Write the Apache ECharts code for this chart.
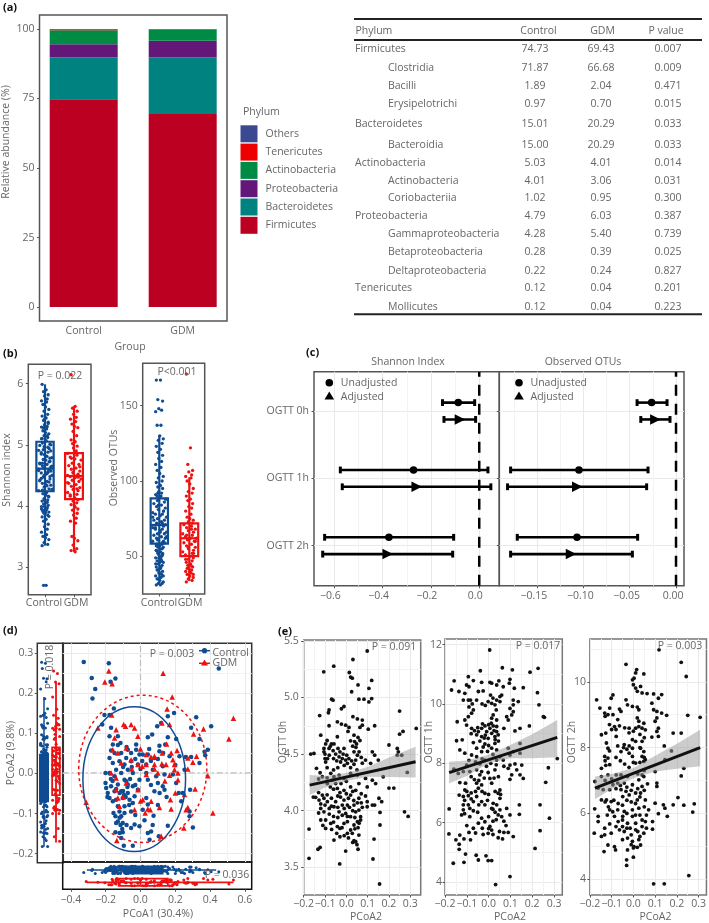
<!DOCTYPE html>
<html>
<head>
<meta charset="utf-8">
<title>Gut microbiota panels</title>
<script src="https://cdn.jsdelivr.net/npm/echarts@6/dist/echarts.min.js"></script>
<style>
  html, body { margin: 0; background: #fff; }
  #chart { width: 709px; height: 923px; }
</style>
</head>
<body>
<div id="chart"></div>
<script>
// (a) stacked bars
const groups = ['Control', 'GDM'];
const phylumOrder = ['Others', 'Tenericutes', 'Actinobacteria', 'Proteobacteria', 'Bacteroidetes', 'Firmicutes'];
const phylumColors = ['#3B4992', '#EE0000', '#008B45', '#631879', '#008280', '#BB0021'];
const others = [0.32, 0.2];
const tenericutes = [0.12, 0.04];
const actinobacteria = [5.03, 4.01];
const proteobacteria = [4.79, 6.03];
const bacteroidetes = [15.01, 20.29];
const firmicutes = [74.73, 69.43];

// (a) table
const tableHead = ['Phylum', 'Control', 'GDM', 'P value'];
const tableNames = ['Firmicutes', 'Clostridia', 'Bacilli', 'Erysipelotrichi', 'Bacteroidetes', 'Bacteroidia', 'Actinobacteria', 'Actinobacteria', 'Coriobacteriia', 'Proteobacteria', 'Gammaproteobacteria', 'Betaproteobacteria', 'Deltaproteobacteria', 'Tenericutes', 'Mollicutes'];
const tableControl = ['74.73', '71.87', '1.89', '0.97', '15.01', '15.00', '5.03', '4.01', '1.02', '4.79', '4.28', '0.28', '0.22', '0.12', '0.12'];
const tableGdm = ['69.43', '66.68', '2.04', '0.70', '20.29', '20.29', '4.01', '3.06', '0.95', '6.03', '5.40', '0.39', '0.24', '0.04', '0.04'];
const tableP = ['0.007', '0.009', '0.471', '0.015', '0.033', '0.033', '0.014', '0.031', '0.300', '0.387', '0.739', '0.025', '0.827', '0.201', '0.223'];
const tableTopLevel = [0, 4, 6, 9, 13];

// (b) box summaries: low, q1, median, q3, high
const shannonBoxControl = [3.35, 4.24, 4.61, 5.05, 5.99];
const shannonBoxGdm = [3.25, 4.11, 4.49, 4.865, 5.63];
const otuBoxControl = [32, 58.4, 70.8, 88.5, 130.5];
const otuBoxGdm = [33.6, 50.2, 62, 71.9, 102.4];
const shannonControl = [5.99, 5.9, 5.87, 5.82, 5.8, 5.75, 5.72, 5.7, 5.66, 5.62, 5.58, 5.55, 5.5, 5.47, 5.44, 5.4, 5.37, 5.33, 5.3, 5.29, 5.26, 5.23, 5.2, 5.18, 5.15, 5.12, 5.1, 5.07, 5.03, 5.0, 4.97, 4.94, 4.91, 4.88, 4.85, 4.82, 4.79, 4.76, 4.73, 4.7, 4.68, 4.66, 4.64, 4.62, 4.6, 4.58, 4.56, 4.54, 4.52, 4.5, 4.47, 4.44, 4.42, 4.4, 4.37, 4.34, 4.31, 4.28, 4.25, 4.22, 4.2, 4.18, 4.15, 4.12, 4.1, 4.08, 4.05, 4.03, 4.01, 3.99, 3.97, 3.95, 3.94, 3.93, 3.92, 3.9, 3.88, 3.85, 3.82, 3.78, 3.75, 3.7, 3.66, 3.62, 3.57, 3.53, 3.5, 3.48, 3.45, 3.4, 3.37, 3.35, 2.7, 2.7, 4.9, 4.84, 4.72, 4.6, 4.55, 4.45, 4.35, 4.27, 4.92, 4.78, 4.69, 4.53, 5.28, 5.35, 5.42, 5.15, 5.1, 4.96, 4.87, 4.75, 4.65, 4.62, 4.48, 4.41, 4.33, 4.26, 4.16, 4.1, 4.06, 3.99, 3.96, 3.91, 3.89, 3.83, 3.92, 5.01, 4.99, 4.81, 4.7, 4.57, 4.5, 4.39];
const shannonGdm = [6.147, 5.63, 5.6, 5.55, 5.5, 5.45, 5.42, 5.38, 5.34, 5.3, 5.28, 5.22, 5.15, 5.08, 5.05, 5.02, 4.98, 4.95, 4.9, 4.86, 4.83, 4.8, 4.77, 4.75, 4.7, 4.68, 4.66, 4.62, 4.6, 4.57, 4.55, 4.52, 4.5, 4.49, 4.48, 4.46, 4.44, 4.42, 4.4, 4.37, 4.35, 4.32, 4.3, 4.27, 4.25, 4.22, 4.19, 4.16, 4.13, 4.1, 4.08, 4.05, 4.02, 3.98, 3.93, 3.88, 3.85, 3.8, 3.75, 3.72, 3.5, 3.47, 3.43, 3.36, 3.3, 3.27, 3.25, 4.78, 4.64, 4.54, 4.47, 4.38, 4.28, 4.18, 4.0, 3.95];
const otuControl = [167, 167, 154, 153, 148, 147, 146, 137, 137, 130, 128, 127, 125, 123, 121, 119, 117, 115, 113, 111, 109, 107, 105, 103, 102, 100, 99, 97, 96, 95, 93, 92, 91, 90, 90, 89, 88, 87, 86, 85, 84, 83, 82, 81, 80, 79, 78, 78, 77, 76, 75, 74, 74, 73, 72, 71, 71, 70, 69, 68, 68, 67, 66, 65, 65, 64, 63, 62, 62, 61, 60, 60, 59, 58, 57, 56, 56, 55, 54, 53, 52, 52, 51, 50, 49, 48, 47, 46, 46, 45, 44, 43, 42, 41, 40, 39, 38, 37, 36, 35, 34, 33, 32, 32, 31, 31, 92, 88, 84, 80, 76, 72, 69, 66, 63, 61, 59, 57, 55, 53, 51, 49, 47, 45, 43, 41, 39, 37, 35, 58, 54, 50];
const otuGdm = [171, 122, 111, 107, 106, 104, 103, 102, 100, 98, 95, 93, 92, 90, 88, 87, 85, 83, 82, 80, 78, 76, 75, 74, 73, 72, 71, 70, 69, 68, 67, 66, 65, 64, 63, 62, 62, 61, 60, 59, 58, 57, 56, 55, 54, 53, 52, 51, 50, 49, 48, 47, 46, 45, 44, 43, 42, 41, 40, 39, 38, 37, 36, 35, 34, 33, 68, 64, 60, 56, 52, 48, 44, 42, 40, 38];
const boxJitter = [-0.18, 0.07, -0.09, 0.2, -0.03, 0.14, -0.22, 0.1, -0.13, 0.03, 0.24, -0.06, 0.17];

// (c) low, estimate, high for OGTT 0h, 1h, 2h
const ogttRows = [3, 2, 1];
const ogttNames = { 1: 'OGTT 2h', 2: 'OGTT 1h', 3: 'OGTT 0h' };
const shannonUnadjusted = [[-0.152, -0.087, -0.019], [-0.575, -0.272, 0.036], [-0.64, -0.374, -0.106]];
const shannonAdjusted = [[-0.146, -0.08, -0.015], [-0.567, -0.259, 0.048], [-0.648, -0.379, -0.11]];
const otusUnadjusted = [[-0.042, -0.0263, -0.0097], [-0.1784, -0.1047, -0.0302], [-0.1712, -0.1068, -0.0414]];
const otusAdjusted = [[-0.038, -0.0223, -0.0065], [-0.1817, -0.1065, -0.0317], [-0.1784, -0.1133, -0.0471]];

// (d) PCoA points
const pcoaControl = [[-.326,.277],[-.182,.274],[-.28,.237],[-.144,.236],[-.26,.21],[-.276,.186],[-.172,.228],[.45,.261],[-.153,.161],[-.207,.145],[-.178,.145],[-.22,.121],[-.169,.113],[-.178,.092],[-.13,.092],[.157,.142],[.193,.15],[.32,.139],[.406,.117],[.119,.125],[.291,.113],[.339,.085],[.067,.096],[.042,.089],[.096,.117],[.157,.089],[-.159,.071],[-.073,.058],[-.025,.071],[.109,.068],[.142,.071],[.205,.085],[.387,.058],[.368,.053],[-.169,.056],[-.149,.05],[-.111,.05],[-.082,.0375],[-.054,.05],[-.025,.058],[-.006,.046],[.013,.046],[.042,.046],[.08,.0375],[.109,.054],[.167,.042],[.224,.042],[.291,.04],[.372,.044],[.339,.025],[-.178,.0375],[-.159,.025],[-.121,.029],[-.092,.021],[-.054,.029],[-.015,.021],[.033,.021],[.071,.008],[.128,.017],[.253,.008],[-.201,0],[-.178,0],[-.14,.008],[-.111,0],[-.073,.008],[-.044,0],[.033,0],[.09,-.008],[.138,-.004],[.186,-.004],[-.149,-.008],[-.092,-.017],[-.006,-.017],[.042,-.017],[.1,-.025],[.128,-.033],[.205,-.025],[-.201,-.025],[-.197,-.0375],[-.169,-.033],[-.13,-.029],[-.082,-.021],[-.073,-.029],[-.044,-.033],[-.015,-.042],[.08,-.046],[.138,-.042],[.285,-.042],[.243,-.05],[-.188,-.05],[-.149,-.046],[-.111,-.046],[-.073,-.05],[-.034,-.058],[-.178,-.0625],[-.14,-.067],[-.102,-.0625],[-.063,-.067],[.033,-.0625],[.234,-.071],[-.159,-.071],[-.13,-.083],[-.092,-.083],[-.044,-.075],[.042,-.079],[.013,-.092],[.282,-.096],[-.121,-.096],[-.144,-.108],[-.111,-.108],[-.092,-.1],[-.054,-.096],[.075,-.107],[.282,-.108],[-.13,-.121],[-.102,-.125],[.023,-.118],[-.034,-.129],[-.054,-.1375],[-.006,-.133],[.157,-.132],[.301,-.136],[-.144,-.148],[-.102,-.148],[.042,-.15],[.061,-.146],[-.111,-.1625],[.052,-.167],[-.096,-.182],[-.044,-.182],[.105,-.158],[-.12,-.112],[-.115,-.13],[-.105,-.14],[-.095,-.055],[-.085,-.06],[-.075,-.035],[-.12,-.05],[-.16,-.02],[-.14,-.04],[.01,.03],[.06,.03],[.1,.035],[-.03,.035],[-.065,-.08],[-.1,.015],[-.08,.065],[-.13,.07],[.06,-.03],[.11,-.05],[.15,-.06],[-.17,-.015],[-.19,-.06],[-.06,-.015],[-.03,-.03],[0,.01],[.05,.06],[.13,.05],[.2,.02],[.22,-.05],[.1,-.08],[.07,-.13],[-.03,-.105],[-.08,-.13],[-.12,-.15],[-.155,-.1],[-.14,-.125],[-.1,-.045],[-.05,.015],[-.115,.075],[.26,.04]];
const pcoaGdm = [[-.182,.255],[.13,.249],[-.205,.2275],[-.163,.223],[.182,.19],[.153,.16],[.534,.137],[.508,.085],[.362,.11],[.305,.0975],[-.245,.1125],[-.165,.145],[-.097,.121],[-.086,.117],[-.054,.121],[-.034,.1125],[.123,.125],[.167,.121],[-.14,.108],[-.015,.092],[-.149,.0875],[.15,.0725],[.21,.056],[-.159,.058],[-.082,.0625],[-.13,.05],[.033,.046],[.125,.05],[.176,.05],[.322,.042],[.272,.0375],[-.054,.033],[.08,.042],[.186,.033],[-.111,.025],[-.015,.021],[.033,.021],[.08,.021],[.123,.023],[.147,.021],[.195,.021],[.0096,.017],[.301,.027],[.272,.01],[-.169,0],[.08,.01],[.195,.008],[-.14,-.0125],[.167,-.006],[.215,0],[.387,-.007],[.033,-.004],[-.082,-.025],[-.015,-.042],[.215,-.017],[.314,-.04],[-.14,-.042],[.253,-.054],[-.13,-.0625],[.013,-.067],[.061,-.071],[.172,-.067],[-.121,-.083],[-.034,-.092],[.042,-.09],[.056,-.092],[.109,-.086],[.176,-.09],[.272,-.086],[.416,-.1],[.027,-.1],[-.312,-.073],[.249,-.1375],[.119,-.158],[-.136,-.169],[.262,-.092],[.06,.04],[.1,0],[.14,-.02],[.2,-.05],[0,.06],[-.05,.01],[-.1,-.06],[0,-.07]];
// cx, cy, rx, ry
const ellipseControl = [-0.036, -0.0154, 0.295, 0.181];
const ellipseGdm = [0.013, 0.0104, 0.368, 0.184];
const pcoaBoxYControl = [-0.183, -0.07, -0.002, 0.047, 0.19];
const pcoaBoxYGdm = [-0.172, -0.054, 0.004, 0.065, 0.227];
const pcoaBoxXControl = [-0.308, -0.092, 0.02, 0.128, 0.435];
const pcoaBoxXGdm = [-0.308, -0.125, 0.0, 0.157, 0.534];
const marginJitter = [-0.2, 0.12, -0.04, 0.25, -0.28, 0.07, 0.18, -0.14, 0.3, -0.08, 0.01];

// (e) OGTT against PCoA2
const ogtt0h = [[.098,5.41],[.031,5.335],[-.059,5.276],[-.106,5.226],[.014,5.22],[.02,5.18],[.028,5.17],[.055,5.11],[.106,5.08],[.119,5.15],[.025,5.05],[.059,4.985],[.083,4.985],[.119,4.99],[.106,4.96],[-.069,4.985],[-.0625,4.976],[-.011,4.92],[-.023,4.9],[-.081,4.89],[-.084,4.865],[-.125,4.84],[.25,4.88],[.031,4.83],[.052,4.81],[.075,4.8],[-.042,4.785],[-.023,4.765],[-.003,4.755],[.0125,4.735],[-.081,4.75],[.075,4.755],[.064,4.735],[.133,4.75],[.103,4.72],[.328,4.726],[.266,4.7],[.25,4.676],[-.12,4.667],[.008,4.7],[-.042,4.653],[.036,4.667],[.055,4.647],[.064,4.62],[.02,4.617],[.039,4.61],[.048,4.59],[-.097,4.59],[-.07,4.59],[-.058,4.59],[-.039,4.55],[-.011,4.55],[-.105,4.55],[-.081,4.55],[.2,4.58],[.239,4.55],[.244,4.52],[.239,4.49],[.26,4.49],[-.152,4.506],[-.167,4.5],[-.105,4.52],[-.08,4.49],[-.1,4.46],[-.097,4.43],[-.034,4.476],[-.019,4.46],[-.003,4.447],[-.027,4.43],[.005,4.418],[.036,4.52],[.052,4.49],[.044,4.447],[.036,4.41],[.122,4.52],[.133,4.49],[.15,4.447],[.09,4.447],[.114,4.418],[.286,4.338],[-.14,4.374],[-.123,4.335],[-.1125,4.3],[-.073,4.33],[-.058,4.3],[-.034,4.315],[-.011,4.285],[.02,4.33],[.052,4.315],[.173,4.3],[.09,4.285],[.122,4.27],[.1375,4.24],[-.05,4.24],[-.066,4.27],[-.089,4.24],[-.042,4.197],[-.011,4.18],[.02,4.21],[.059,4.24],[.044,4.18],[.098,4.21],[.2,4.2],[.223,4.2],[-.155,4.12],[-.144,4.118],[-.128,4.094],[-.1125,4.138],[-.105,4.11],[-.089,4.08],[-.027,4.12],[-.011,4.094],[.02,4.138],[.059,4.11],[.052,4.07],[.036,4.05],[.005,4.05],[-.019,4.05],[.098,4.08],[.122,4.05],[.133,4.05],[.098,4.035],[.153,4.11],[.166,4.08],[-.12,4.02],[-.105,3.99],[-.08,4.02],[-.058,4.035],[-.034,3.99],[-.019,3.96],[-.003,3.976],[.02,3.947],[.044,3.99],[.059,4.006],[.067,3.947],[.158,3.985],[.273,3.99],[.29,3.95],[-.12,3.918],[-.097,3.918],[-.097,3.844],[-.073,3.888],[-.069,3.835],[-.042,3.86],[-.03,3.844],[-.011,3.888],[.005,3.903],[.036,3.874],[.052,3.903],[.067,3.918],[.158,3.874],[-.175,3.838],[.005,3.8],[.028,3.8],[.059,3.785],[-.058,3.741],[-.03,3.77],[.036,3.735],[.044,3.726],[.13,3.75],[-.133,3.66],[-.123,3.676],[-.003,3.644],[.055,3.66],[-.175,3.58],[.125,3.574],[-.031,3.53],[.156,3.353],[-.09,4.62],[-.075,4.57],[-.062,4.53],[-.05,4.5],[-.1,4.5],[-.088,4.46],[-.06,4.46],[-.045,4.44],[-.03,4.52],[-.015,4.5],[.002,4.49],[.012,4.46],[.025,4.44],[.03,4.57],[.045,4.56],[.06,4.52],[.07,4.47],[.075,4.42],[-.01,4.4],[-.04,4.38],[-.06,4.36],[-.09,4.38],[.02,4.38],[.05,4.36],[-.13,4.28],[-.09,4.29],[-.075,4.21],[-.06,4.19],[-.025,4.24],[0,4.26],[-.03,4.16],[0,4.15],[.03,4.17],[.07,4.15],[.09,4.13],[-.13,4.16],[-.09,4.14],[-.07,4.11],[-.05,4.08],[-.04,4.13],[.01,4.11],[.035,4.09],[.07,4.07],[-.12,4.06],[-.1,4.05],[-.07,4.04],[-.04,4.03],[-.01,4.02],[.015,4.03],[.03,4],[.075,4.03],[-.13,3.98],[-.08,3.97],[-.06,3.95],[-.04,3.94],[.005,3.95],[.04,3.94],[.06,3.89],[-.11,3.87],[-.06,3.9],[-.02,3.85],[.02,3.83],[.04,3.84],[.055,3.85],[-.045,3.8],[-.01,3.78],[.01,3.76],[.03,3.72],[.05,3.7]];
const ogtt1h = [[.005,11.82],[.063,11.22],[-.038,11.12],[.109,11.15],[.227,11.2],[.19,11.07],[-.093,10.92],[-.158,10.78],[-.07,10.79],[-.101,10.64],[-.09,10.58],[-.032,10.73],[.006,10.73],[.014,10.7],[.047,10.78],[.037,10.64],[.098,10.83],[.095,10.7],[.118,10.53],[.159,10.55],[.067,10.58],[-.17,10.47],[-.136,10.42],[-.109,10.36],[-.047,10.42],[-.025,10.44],[.009,10.3],[.052,10.25],[.037,10.13],[.06,10.3],[.224,10.38],[-.116,10.13],[-.093,10.13],[-.083,10.13],[-.055,10.13],[-.002,10.08],[.014,10.02],[.029,9.97],[.052,10.08],[.113,10.13],[.136,10.08],[.231,9.97],[.113,9.97],[.098,9.85],[-.07,9.8],[-.078,9.69],[-.093,9.57],[-.109,9.46],[-.144,9.4],[.021,9.63],[.014,9.52],[.037,9.46],[.113,9.74],[.106,9.63],[.083,9.57],[.09,9.46],[.251,9.57],[.256,9.55],[-.101,9.29],[-.078,9.18],[-.028,9.33],[-.017,9.26],[.006,9.18],[.021,9.26],[-.032,9.18],[.037,9.24],[-.047,9.07],[-.009,9.07],[.014,9.01],[.037,9.07],[.07,9.18],[.144,9.18],[.187,9.26],[.121,9.09],[-.055,8.96],[-.032,8.9],[-.002,8.84],[.029,8.9],[.044,8.96],[-.147,8.76],[-.121,8.79],[-.07,8.7],[-.017,8.65],[.029,8.67],[.144,8.67],[-.132,8.45],[-.109,8.34],[-.055,8.51],[-.032,8.39],[.014,8.51],[.037,8.45],[.09,8.51],[.113,8.39],[-.078,8.28],[-.055,8.22],[-.017,8.11],[.052,8.22],[.098,8.28],[.144,8.34],[.315,8.16],[.037,8.11],[.067,8.11],[-.101,7.94],[-.04,7.98],[.098,7.94],[.121,7.98],[.152,7.94],[.274,7.85],[-.159,7.8],[-.139,7.66],[-.116,7.72],[-.086,7.72],[-.055,7.78],[-.032,7.72],[-.002,7.69],[.029,7.78],[.09,7.83],[.129,7.78],[.144,7.61],[.159,7.49],[.106,7.61],[.098,7.46],[-.04,7.61],[.006,7.49],[-.132,7.35],[-.106,7.33],[-.055,7.33],[-.032,7.27],[.014,7.33],[.262,7.36],[-.109,7.1],[-.047,7.16],[-.017,6.99],[.052,7.1],[.044,6.99],[-.135,6.93],[-.116,6.88],[-.093,6.91],[-.055,6.88],[.052,6.82],[-.07,6.71],[-.032,6.71],[-.017,6.6],[-.116,6.6],[-.093,6.6],[.021,6.65],[.037,6.6],[.236,6.6],[.141,6.6],[-.181,6.46],[-.116,6.43],[-.086,6.48],[.014,6.48],[.052,6.43],[.083,6.48],[.141,6.28],[-.124,6.26],[-.086,6.2],[.044,6.26],[.06,6.2],[.098,6.26],[.279,6.15],[-.032,6.15],[-.047,5.98],[-.017,6.03],[.006,5.87],[-.07,5.81],[-.029,5.81],[.014,5.75],[-.002,5.64],[-.09,5.67],[-.182,5.62],[-.132,5.58],[.09,5.67],[.07,5.67],[.236,5.73],[.113,5.53],[.044,5.49],[.064,5.45],[-.15,5.42],[-.113,5.45],[-.083,5.42],[-.135,5.27],[-.135,5.1],[.213,5.13],[-.106,4.94],[-.057,4.9],[-.012,4.88],[-.047,4.74],[-.002,4.72],[.014,4.72],[-.162,4.63],[-.113,4.66],[.098,4.18],[.032,3.91],[-.08,9],[-.065,9.1],[-.05,9.2],[-.04,8.75],[-.02,8.85],[0,9.3],[.012,9.35],[.025,9.1],[.03,8.8],[.045,8.75],[-.015,8.95],[-.025,8.55],[-.005,8.4],[0,8.6],[.02,8.3],[-.09,9.9],[-.075,10],[-.03,10],[-.015,9.95],[.02,10.2],[.035,9.8],[-.09,8.1],[-.06,8.05],[-.03,8.15],[-.01,7.9],[.01,8],[.035,7.95],[.07,7.9],[-.08,7.55],[-.065,7.45],[-.045,7.42],[-.02,7.5],[.025,7.5],[.045,7.55],[-.1,7.05],[-.08,7],[-.06,7.05],[-.03,7.05],[0,6.95],[.03,7.05],[.055,6.95],[-.11,6.75],[-.08,6.8],[-.045,6.6],[-.005,6.75],[.02,6.45],[.03,6.35],[-.11,6.3],[-.07,6.4],[-.05,6.35],[0,6.2],[.02,6.05],[.035,6.1],[.07,6.05],[-.1,5.9],[-.06,5.65],[-.025,5.6],[0,5.8],[.02,5.6],[.05,5.7],[.08,5.9]];
const ogtt2h = [[.118,10.97],[.22,10.59],[-.034,10.53],[.243,10.16],[.015,10.37],[.0105,10.27],[.048,10.24],[.003,10.11],[-.004,10.06],[0,9.91],[.0105,9.81],[.018,9.71],[.033,9.86],[.04,9.66],[.063,9.64],[.093,9.63],[.13,9.61],[.115,9.5],[-.094,9.6],[-.102,9.5],[-.169,9.45],[-.034,9.45],[-.027,9.3],[.085,9.35],[-.154,9.2],[-.109,9.2],[-.064,9.17],[-.057,9.1],[-.0045,9.25],[.018,9.23],[.025,9.15],[.093,9.15],[.108,9.1],[.13,9.05],[.153,8.98],[.25,8.98],[.307,8.92],[-.132,9.05],[-.117,9],[-.094,9],[-.072,8.85],[.108,8.9],[.1,8.8],[.018,8.9],[.025,8.8],[.048,8.74],[-.064,8.66],[-.087,8.64],[-.0195,8.59],[.0105,8.59],[.025,8.64],[.04,8.59],[.115,8.59],[.055,8.54],[-.147,8.39],[-.127,8.44],[.183,8.44],[.22,8.44],[.108,8.49],[.115,8.34],[.085,8.32],[-.0045,8.24],[.0105,8.19],[-.124,8.14],[-.079,8.34],[.04,8.19],[-.117,7.98],[-.072,8.05],[-.042,8.09],[-.0195,8.05],[-.057,7.88],[-.0045,7.98],[.033,7.98],[.048,7.88],[.142,8.05],[-.132,7.73],[-.117,7.68],[-.0195,7.83],[-.0045,7.73],[.04,7.73],[.055,7.63],[.175,7.9],[.145,7.63],[-.147,7.37],[-.127,7.46],[-.109,7.48],[.0105,7.53],[.048,7.58],[.232,7.37],[.22,7.14],[-.079,7.17],[-.057,7.17],[-.027,7.12],[.04,7.17],[.1,7.27],[-.147,7.12],[-.117,7.17],[-.162,6.77],[-.139,6.72],[-.094,6.87],[-.072,6.92],[-.042,6.92],[.025,7.02],[.048,7.12],[.108,6.92],[.108,6.82],[-.109,6.72],[-.057,6.72],[-.0045,6.87],[.04,6.82],[-.177,6.97],[-.034,6.67],[.0105,6.62],[.033,6.62],[-.147,6.41],[-.124,6.41],[-.102,6.36],[-.049,6.51],[-.0195,6.56],[.018,6.41],[.055,6.41],[.205,6.48],[.28,6.29],[.232,6.25],[.138,6.26],[.1,6.31],[.183,6.26],[-.178,6.14],[-.109,6.11],[-.072,6.11],[-.042,6.06],[-.0045,6.11],[.025,6.16],[.07,6.11],[.145,6.16],[.273,6.04],[.115,5.99],[.156,5.91],[-.162,5.91],[-.162,5.75],[-.087,5.91],[-.049,5.91],[-.0045,5.91],[.04,5.8],[.055,5.75],[.088,5.75],[-.109,5.68],[-.132,5.55],[-.027,5.7],[.0105,5.7],[.04,5.6],[-.064,5.5],[-.042,5.45],[.0105,5.5],[.088,5.52],[-.18,5.4],[-.132,5.35],[-.102,5.4],[.048,5.4],[-.147,5.3],[-.027,5.25],[-.0045,5.15],[.025,5.2],[-.117,5.04],[-.087,4.99],[.003,4.99],[.018,4.97],[.033,5.04],[-.027,4.89],[-.135,4.84],[-.082,4.89],[0,4.67],[-.031,4.59],[-.031,4.42],[.255,4.11],[.093,3.86],[.142,3.86],[-.13,8.95],[-.11,8.7],[-.1,8.55],[-.08,8.55],[-.04,8.6],[-.02,8.45],[0,8.5],[.03,8.4],[.05,8.3],[.03,8],[.05,7.7],[.03,7.55],[-.045,8],[-.03,7.95],[-.13,7.6],[-.11,7.9],[-.08,7.7],[-.06,7.6],[-.04,7.5],[-.02,7.4],[0,7.55],[.02,7.2],[.05,7.3],[-.13,7],[-.1,7.05],[-.08,6.75],[-.06,6.85],[-.03,6.8],[-.01,6.7],[.02,6.75],[.05,6.7],[.065,6.9],[-.13,6.35],[-.115,6.2],[-.09,6.4],[-.07,6.3],[-.05,6.25],[-.03,6.4],[-.01,6.35],[.01,6.3],[.03,6.5],[.05,6.2],[-.12,5.95],[-.095,6.05],[-.07,5.75],[-.05,5.8],[-.03,6],[-.015,5.55],[.01,5.95],[.03,5.95],[.06,5.95],[-.08,5.6],[-.05,5.6],[-.03,5.55],[-.01,5.35],[.02,5.45],[.06,5.55],[.03,5.3],[-.05,5.2],[-.01,5.05],[0,4.95]];
const fit0hX = [-0.172, 0.325], fit0hY = [4.226, 4.432];
const fit1hX = [-0.181, 0.315], fit1hY = [7.685, 8.876];
const fit2hX = [-0.177, 0.307], fit2hY = [6.767, 8.0];
const band0hX = [-0.172, -0.1, 0, 0.1, 0.2, 0.325];
const band0hHi = [4.315, 4.306, 4.332, 4.385, 4.47, 4.565];
const band0hLo = [4.138, 4.206, 4.262, 4.3, 4.297, 4.294];
const band1hX = [-0.181, -0.1, 0, 0.1, 0.2, 0.315];
const band1hHi = [8.056, 8.09, 8.29, 8.62, 8.98, 9.46];
const band1hLo = [7.326, 7.57, 8.0, 8.17, 8.17, 8.2];
const band2hX = [-0.177, -0.1, 0, 0.1, 0.2, 0.307];
const band2hHi = [7.12, 7.2, 7.376, 7.75, 8.12, 8.54];
const band2hLo = [6.43, 6.74, 7.07, 7.27, 7.355, 7.43];

const FONT = '"Open Sans", "Noto Sans", sans-serif';
const GREY = '#666';
const BLUE = '#0F4C92';
const RED = '#EE1111';
const GRID_MAJOR = '#e9e9e9';
const GRID_MINOR = '#f3f3f3';
const fixed = (d) => (v) => Number(v).toFixed(d).replace('-', '\u2212');

const grids = [], xAxes = [], yAxes = [], series = [], marks = [];

function axis(gridIndex, a) {
  return {
    type: 'value', gridIndex, min: a.min, max: a.max,
    axisLine: { show: false, onZero: false },
    axisTick: { show: !!a.labels, length: 2.5, customValues: a.ticks, lineStyle: { color: '#555' } },
    axisLabel: {
      show: !!a.labels, customValues: a.ticks, formatter: a.labels, margin: a.margin || 5,
      color: GREY, fontSize: 10.5, fontFamily: FONT, padding: a.padding || 0,
      hideOverlap: false, showMinLabel: true, showMaxLabel: true
    },
    splitLine: { show: !!a.grid, lineStyle: { color: GRID_MAJOR, width: 1 } }
  };
}

// Minor grid lines live on a hidden second axis of the same grid
function minorAxis(gridIndex, a, values) {
  const m = axis(gridIndex, { min: a.min, max: a.max, ticks: values, grid: true });
  m.splitLine.lineStyle.color = GRID_MINOR;
  return m;
}

function panel(box, x, y, frame) {
  const gi = grids.length;
  grids.push({
    show: true, left: box[0], top: box[1], width: box[2] - box[0], height: box[3] - box[1],
    borderColor: frame || '#555', borderWidth: 1.5
  });
  xAxes.push(axis(gi, x));
  yAxes.push(axis(gi, y));
  const ref = { xAxisIndex: xAxes.length - 1, yAxisIndex: yAxes.length - 1 };
  if (x.minor) xAxes.push(minorAxis(gi, x, x.minor));
  if (y.minor) yAxes.push(minorAxis(gi, y, y.minor));
  return ref;
}

function text(str, x, y, opt) {
  opt = opt || {};
  marks.push({
    type: 'text', x, y, rotation: opt.rotate ? Math.PI / 2 : 0, z: 100,
    style: {
      text: str, fill: opt.color || GREY, align: opt.align || 'center', verticalAlign: 'middle',
      font: (opt.bold ? 'bold ' : '') + (opt.size || 10.5) + 'px ' + FONT
    }
  });
}

function hline(x1, x2, y, color, width) {
  marks.push({ type: 'line', z: 100, shape: { x1, y1: y, x2, y2: y }, style: { stroke: color, lineWidth: width } });
}

function boxSeries(ref, pos, stats, color, horizontal, width, filled, lineWidth) {
  series.push({
    type: 'custom', ...ref, silent: true, z: 3, clip: false,
    data: [[pos, ...stats]],
    renderItem(params, api) {
      const at = (p, v) => api.coord(horizontal ? [v, p] : [p, v]);
      const p = api.value(0), lw = lineWidth || 2.2;
      const lo = at(p, api.value(1)), q1 = at(p, api.value(2)), med = at(p, api.value(3)), q3 = at(p, api.value(4)), hi = at(p, api.value(5));
      const h = (width - lw) / 2;
      const line = (a, b) => ({ type: 'line', shape: { x1: a[0], y1: a[1], x2: b[0], y2: b[1] }, style: { stroke: color, lineWidth: lw } });
      const rect = horizontal
        ? { x: q1[0], y: q1[1] - h, width: q3[0] - q1[0], height: h * 2 }
        : { x: q3[0] - h, y: q3[1], width: h * 2, height: q1[1] - q3[1] };
      const mid = horizontal ? [[med[0], med[1] - h], [med[0], med[1] + h]] : [[med[0] - h, med[1]], [med[0] + h, med[1]]];
      return {
        type: 'group', children: [
          line(lo, hi),
          { type: 'rect', shape: rect, style: { fill: filled ? color : 'none', stroke: color, lineWidth: lw } },
          line(mid[0], mid[1])
        ]
      };
    }
  });
}

function dots(ref, data, color, size, symbol, z) {
  series.push({
    type: 'scatter', ...ref, data, symbol: symbol || 'circle', symbolSize: size, z: z || 4, silent: true,
    itemStyle: { color, opacity: 1 }
  });
}

function plainLine(ref, data, color, width, dash, z) {
  series.push({
    type: 'line', ...ref, data, showSymbol: false, silent: true, z: z || 2,
    lineStyle: { color, width, type: dash || 'solid' }
  });
}

// ---- (a) stacked bars + legend + table
panel([39.5, 15, 227, 321],
  { min: 0, max: 1 },
  { min: -5, max: 105, ticks: [0, 25, 50, 75, 100], labels: fixed(0) });
// The bars sit on their own category grid, wider than the frame, so the two
// groups land where they do in the figure
const barGrid = grids.length;
grids.push({ left: 34.2, width: 198, top: 15, height: 306 });
xAxes.push({
  type: 'category', gridIndex: barGrid, data: groups,
  axisLine: { show: false }, axisTick: { length: 2.5, alignWithLabel: true, lineStyle: { color: '#555' } },
  axisLabel: { color: GREY, fontSize: 10.5, fontFamily: FONT, margin: 5 }
});
yAxes.push({ type: 'value', gridIndex: barGrid, min: -5, max: 105, show: false });
const aRef = { xAxisIndex: xAxes.length - 1, yAxisIndex: yAxes.length - 1 };
const barValues = [firmicutes, bacteroidetes, proteobacteria, actinobacteria, tenericutes, others];
barValues.forEach((vals, i) => {
  series.push({
    type: 'bar', name: phylumOrder[5 - i], ...aRef, stack: 'phylum', barWidth: 68, silent: true,
    itemStyle: { color: phylumColors[5 - i] }, data: vals
  });
});
text('Relative abundance (%)', 6, 142, { rotate: true });
text('Group', 130, 347);
text('Phylum', 243, 112, { align: 'left' });

const tableRowY = [49.3, 68, 85.7, 104, 124, 145.3, 163.3, 180.7, 197.7, 215.7, 234, 252.3, 270.7, 288, 307];
hline(354, 702, 19, '#222', 2);
hline(354, 702, 40, '#222', 2);
hline(354, 702, 314.3, '#222', 2);
tableHead.forEach((h, i) => {
  text(h, [355.5, 538.5, 602.5, 666][i], 31.5, { align: i ? 'center' : 'left' });
});
tableNames.forEach((n, i) => {
  const y = tableRowY[i];
  text(n, tableTopLevel.includes(i) ? 355 : 388, y, { align: 'left' });
  text(tableControl[i], 535, y);
  text(tableGdm[i], 601, y);
  text(tableP[i], 668, y);
});

// ---- (b) alpha diversity
const noLabel = () => '';
const bLeft = panel([28.3, 364.3, 91, 594.7],
  { min: -0.576, max: 1.586, ticks: [0, 1], labels: noLabel },
  { min: 2.547, max: 6.318, ticks: [3, 4, 5, 6], labels: fixed(0) });
const bRight = panel([142.7, 363.3, 204.7, 594],
  { min: -0.553, max: 1.513, ticks: [0, 1], labels: noLabel },
  { min: 25, max: 178.1, ticks: [50, 100, 150], labels: fixed(0) });
// points spread wider inside the box than along the whisker
const jittered = (vals, pos, box) => vals.map((v, i) => {
  const j = boxJitter[i % boxJitter.length];
  return [pos + (v >= box[1] && v <= box[3] ? j : j * 0.55), v];
});
[[bLeft, shannonBoxControl, shannonBoxGdm, shannonControl, shannonGdm], [bRight, otuBoxControl, otuBoxGdm, otuControl, otuGdm]].forEach((b) => {
  boxSeries(b[0], 0, b[1], BLUE, false, 19.5);
  boxSeries(b[0], 1, b[2], RED, false, 20);
  dots(b[0], jittered(b[3], 0, b[1]), BLUE, 3.3);
  dots(b[0], jittered(b[4], 1, b[2]), RED, 3.3);
});
[[44, 'Control'], [76, 'GDM'], [159, 'Control'], [190, 'GDM']].forEach((l) => text(l[1], l[0], 603.5));
text('Shannon index', 7, 470, { rotate: true });
text('Observed OTUs', 114, 468, { rotate: true });
text('P = 0.022', 60, 376);
text('P<0.001', 177, 372);

// ---- (c) forest plots
const yRows = { min: 0.406, max: 3.584, ticks: ogttRows };
const cLeft = panel([314, 371.7, 499.3, 585.7],
  { min: -0.684, max: 0.083, ticks: [-0.6, -0.4, -0.2, 0], labels: fixed(1), grid: true, minor: [-0.5, -0.3, -0.1], padding: [0, 8, 0, 0] },
  { ...yRows, labels: (v) => ogttNames[v], grid: true });
const cRight = panel([499.3, 371.7, 684, 585.7],
  { min: -0.1906, max: 0.0086, ticks: [-0.15, -0.1, -0.05, 0], labels: fixed(2), grid: true, minor: [-0.175, -0.125, -0.075, -0.025], padding: [0, 6, 0, 0] },
  { ...yRows, labels: noLabel, grid: true });
const ROW_SHIFT = 0.125;

function ciSeries(ref, rows, shift) {
  series.push({
    type: 'custom', ...ref, silent: true, z: 4,
    data: rows.map((r, i) => [ogttRows[i] + shift, r[0], r[2]]),
    renderItem(params, api) {
      const y = api.value(0);
      const a = api.coord([api.value(1), y]), b = api.coord([api.value(2), y]);
      const bar = (p) => ({ type: 'rect', shape: { x: p[0] - 1.5, y: p[1] - 3.4, width: 3, height: 6.8 }, style: { fill: '#000' } });
      return {
        type: 'group', children: [
          { type: 'line', shape: { x1: a[0], y1: a[1], x2: b[0], y2: b[1] }, style: { stroke: '#000', lineWidth: 2.6 } },
          bar(a), bar(b)
        ]
      };
    }
  });
}
[[cLeft, shannonUnadjusted, shannonAdjusted, 329.3], [cRight, otusUnadjusted, otusAdjusted, 519]].forEach((c) => {
  plainLine(c[0], [[0, yRows.min], [0, yRows.max]], '#000', 2.5, [11, 8], 3);
  ciSeries(c[0], c[1], ROW_SHIFT);
  ciSeries(c[0], c[2], -ROW_SHIFT);
  dots(c[0], c[1].map((r, i) => [r[1], ogttRows[i] + ROW_SHIFT]), '#000', 7.5, 'circle', 5);
  series.push({
    type: 'scatter', ...c[0], silent: true, z: 5, symbol: 'triangle', symbolRotate: -90, symbolSize: 10.5,
    itemStyle: { color: '#000', opacity: 1 },
    data: c[2].map((r, i) => [r[1], ogttRows[i] - ROW_SHIFT])
  });
  const kx = c[3];
  marks.push({ type: 'circle', z: 100, shape: { cx: kx, cy: 382.7, r: 3.8 }, style: { fill: '#000' } });
  marks.push({ type: 'polygon', z: 100, shape: { points: [[kx, 391.5], [kx + 4.8, 399.5], [kx - 4.8, 399.5]] }, style: { fill: '#000' } });
  text('Unadjusted', kx + 11.5, 383, { align: 'left' });
  text('Adjusted', kx + 11.5, 397, { align: 'left' });
});
text('Shannon Index', 408, 362);
text('Observed OTUs', 583, 362);

// ---- (d) PCoA with marginal boxes
const pcoaXMin = -0.447, pcoaXMax = 0.639, pcoaYMin = -0.2225, pcoaYMax = 0.324;
const dMain = panel([62.7, 643.3, 251.7, 862],
  { min: pcoaXMin, max: pcoaXMax, ticks: [-0.4, -0.2, 0, 0.2, 0.4, 0.6], grid: true, minor: [-0.3, -0.1, 0.1, 0.3, 0.5] },
  { min: pcoaYMin, max: pcoaYMax, ticks: [-0.2, -0.1, 0, 0.1, 0.2, 0.3], grid: true, minor: [-0.15, -0.05, 0.05, 0.15, 0.25] },
  '#333');
const dLeft = panel([37.3, 643.3, 63.3, 862.7],
  { min: -0.558, max: 1.608 },
  { min: pcoaYMin, max: pcoaYMax, ticks: [-0.2, -0.1, 0, 0.1, 0.2, 0.3], labels: fixed(1), margin: 4 },
  '#333');
const dBottom = panel([62.7, 862, 251.7, 889.3],
  { min: pcoaXMin, max: pcoaXMax, ticks: [-0.4, -0.2, 0, 0.2, 0.4, 0.6], labels: fixed(1), margin: 5 },
  { min: -0.569, max: 1.65 },
  '#111');
plainLine(dMain, [[0, pcoaYMin], [0, pcoaYMax]], '#bdbdbd', 1.2, [6, 3, 2, 3], 2);
plainLine(dMain, [[pcoaXMin, 0], [pcoaXMax, 0]], '#bdbdbd', 1.2, [6, 3, 2, 3], 2);
dots(dMain, pcoaControl, BLUE, 4.5, 'circle', 4);
dots(dMain, pcoaGdm, RED, 5.5, 'triangle', 5);

function ellipseSeries(params, color, dash) {
  series.push({
    type: 'custom', ...dMain, silent: true, z: 6, data: [params],
    renderItem(p, api) {
      const c = api.coord([api.value(0), api.value(1)]);
      const s = api.size([api.value(2), api.value(3)]);
      return {
        type: 'ellipse', shape: { cx: c[0], cy: c[1], rx: s[0], ry: s[1] },
        style: { fill: 'none', stroke: color, lineWidth: 1.5, lineDash: dash }
      };
    }
  });
}
ellipseSeries(ellipseControl, BLUE);
ellipseSeries(ellipseGdm, RED, [3, 3]);

const marginOffset = (i) => marginJitter[i % marginJitter.length];
boxSeries(dLeft, 0, pcoaBoxYControl, BLUE, false, 10, true, 1.5);
boxSeries(dLeft, 1, pcoaBoxYGdm, RED, false, 9.5, false, 1.8);
dots(dLeft, pcoaControl.map((p, i) => [marginOffset(i), p[1]]), BLUE, 3);
dots(dLeft, pcoaGdm.map((p, i) => [1 + marginOffset(i), p[1]]), RED, 3);
boxSeries(dBottom, 1, pcoaBoxXControl, BLUE, true, 9, true, 1.5);
boxSeries(dBottom, 0, pcoaBoxXGdm, RED, true, 9, false, 1.8);
dots(dBottom, pcoaControl.map((p, i) => [p[0], 1 + marginOffset(i)]), BLUE, 3);
dots(dBottom, pcoaGdm.map((p, i) => [p[0], marginOffset(i)]), RED, 3);

text('PCoA2 (9.8%)', 11, 753, { rotate: true });
text('PCoA1 (30.4%)', 158, 914);
text('P = 0.003', 172, 654);
text('P = 0.018', 50, 667, { rotate: true });
text('P = 0.036', 227, 875);
hline(199, 210, 650.7, BLUE, 1.5);
marks.push({ type: 'circle', z: 100, shape: { cx: 204.5, cy: 650.7, r: 2.6 }, style: { fill: BLUE } });
hline(199, 210, 663.3, RED, 1.5);
marks.push({ type: 'polygon', z: 100, shape: { points: [[204.5, 659.5], [208, 665.5], [201, 665.5]] }, style: { fill: RED } });
text('Control', 212.5, 653, { align: 'left' });
text('GDM', 212.5, 663.5, { align: 'left' });

// ---- (e) OGTT scatter panels
function scatterPanel(box, x, y, pts, fitX, fitY, bandX, bandHi, bandLo) {
  const ref = panel(box, x, y, '#777');
  dots(ref, pts, '#111', 3.8, 'circle', 3);
  series.push({
    type: 'custom', ...ref, silent: true, z: 4, data: [[bandX[0], bandLo[0]]],
    renderItem(p, api) {
      const top = bandX.map((v, i) => api.coord([v, bandHi[i]]));
      const low = bandX.map((v, i) => api.coord([v, bandLo[i]])).reverse();
      return { type: 'polygon', shape: { points: top.concat(low) }, style: { fill: 'rgba(153,153,153,0.5)' } };
    }
  });
  plainLine(ref, fitX.map((v, i) => [v, fitY[i]]), '#111', 3, 'solid', 5);
}
const pcoa2Ticks = [-0.2, -0.1, 0, 0.1, 0.2, 0.3];
const pcoa2Minor = [-0.15, -0.05, 0.05, 0.15, 0.25];
scatterPanel([303.7, 640, 420.7, 895],
  { min: -0.2, max: 0.349, ticks: pcoa2Ticks, labels: fixed(1), grid: true, minor: pcoa2Minor, margin: 4 },
  { min: 3.256, max: 5.507, ticks: [3.5, 4, 4.5, 5, 5.5], labels: fixed(1), grid: true, minor: [3.75, 4.25, 4.75, 5.25] },
  ogtt0h, fit0hX, fit0hY, band0hX, band0hHi, band0hLo);
scatterPanel([445, 639, 562.3, 895],
  { min: -0.2, max: 0.338, ticks: pcoa2Ticks, labels: fixed(1), grid: true, minor: pcoa2Minor, margin: 4 },
  { min: 3.56, max: 12.19, ticks: [4, 6, 8, 10, 12], labels: fixed(0), grid: true, minor: [5, 7, 9, 11], margin: 3 },
  ogtt1h, fit1hX, fit1hY, band1hX, band1hHi, band1hLo);
scatterPanel([589.9, 639, 709, 895],
  { min: -0.2, max: 0.336, ticks: pcoa2Ticks, labels: fixed(1), grid: true, minor: pcoa2Minor, margin: 4 },
  { min: 3.52, max: 11.3, ticks: [4, 6, 8, 10], labels: fixed(0), grid: true, minor: [5, 7, 9, 11], margin: 4 },
  ogtt2h, fit2hX, fit2hY, band2hX, band2hHi, band2hLo);
text('OGTT 0h', 283, 742, { rotate: true });
text('OGTT 1h', 429.5, 742, { rotate: true });
text('OGTT 2h', 572.5, 742, { rotate: true });
text('PCoA2', 366, 917);
text('PCoA2', 510, 917);
text('PCoA2', 655.5, 917);
text('P = 0.091', 394, 647.5);
text('P = 0.017', 538, 646);
text('P = 0.003', 680, 646);

// ---- panel letters
[['(a)', 3, 8], ['(b)', 3, 354], ['(c)', 306, 353], ['(d)', 3, 631], ['(e)', 278, 632]].forEach((l) => {
  text(l[0], l[1], l[2], { align: 'left', bold: true, color: '#111', size: 11 });
});

const chart = echarts.init(document.getElementById('chart'), null, { renderer: 'canvas' });
chart.setOption({
  animation: false,
  backgroundColor: '#fff',
  textStyle: { fontFamily: FONT },
  tooltip: { show: false },
  grid: grids,
  xAxis: xAxes,
  yAxis: yAxes,
  legend: {
    orient: 'vertical', left: 240.5, top: 125.3, icon: 'rect', itemWidth: 17, itemHeight: 17, itemGap: 1.3,
    selectedMode: false, data: phylumOrder, padding: 0,
    textStyle: { color: GREY, fontSize: 10.5, fontFamily: FONT, padding: [0, 0, 0, 3] }
  },
  graphic: { elements: marks },
  series
});
</script>
</body>
</html>
